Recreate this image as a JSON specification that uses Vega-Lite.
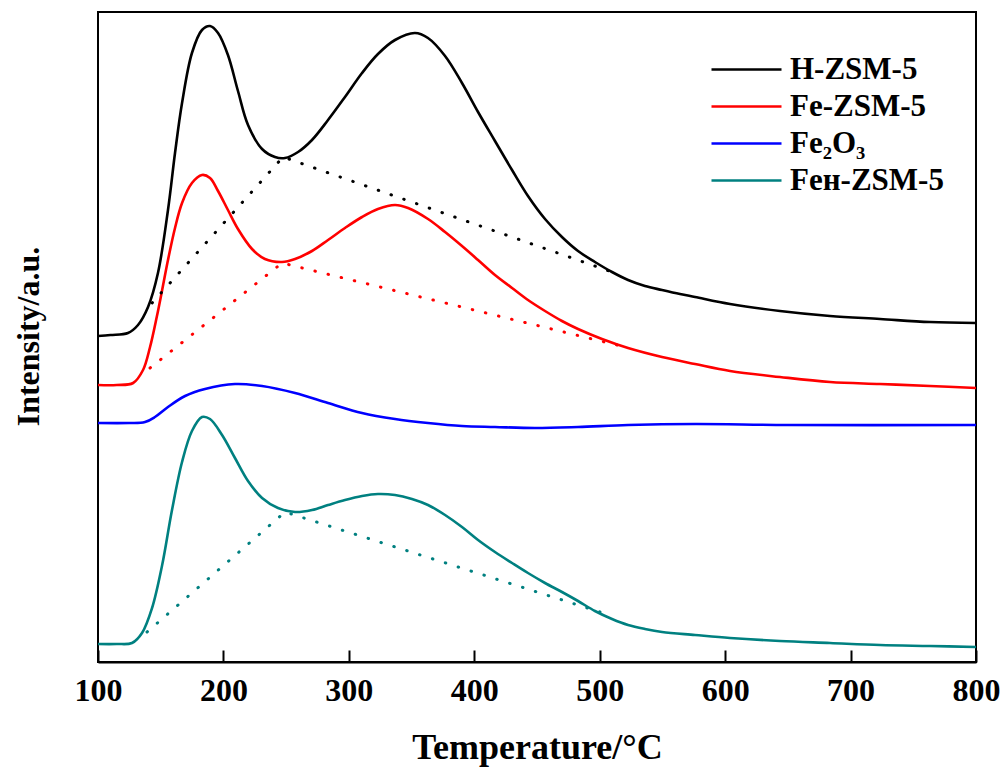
{
  "$schema": "https://vega.github.io/schema/vega-lite/v6.json",
  "width": 878,
  "height": 650,
  "autosize": {"type": "none"},
  "padding": {"left": 98, "top": 12, "right": 27, "bottom": 109},
  "background": "white",
  "config": {
    "view": {"stroke": "#000", "strokeWidth": 2},
    "font": "Liberation Serif"
  },
  "datasets": {
    "profiles": [
      {"sample": "H-ZSM-5", "temperature": 100, "intensity": 326},
      {"sample": "H-ZSM-5", "temperature": 110, "intensity": 327},
      {"sample": "H-ZSM-5", "temperature": 123.9, "intensity": 329},
      {"sample": "H-ZSM-5", "temperature": 131.9, "intensity": 337},
      {"sample": "H-ZSM-5", "temperature": 139.9, "intensity": 355},
      {"sample": "H-ZSM-5", "temperature": 147.8, "intensity": 389},
      {"sample": "H-ZSM-5", "temperature": 155.8, "intensity": 452},
      {"sample": "H-ZSM-5", "temperature": 161.4, "intensity": 509},
      {"sample": "H-ZSM-5", "temperature": 167.0, "intensity": 559},
      {"sample": "H-ZSM-5", "temperature": 174.9, "intensity": 609},
      {"sample": "H-ZSM-5", "temperature": 182.9, "intensity": 632},
      {"sample": "H-ZSM-5", "temperature": 189.3, "intensity": 636},
      {"sample": "H-ZSM-5", "temperature": 195.7, "intensity": 629},
      {"sample": "H-ZSM-5", "temperature": 203.6, "intensity": 607},
      {"sample": "H-ZSM-5", "temperature": 211.6, "intensity": 571},
      {"sample": "H-ZSM-5", "temperature": 219.6, "intensity": 537},
      {"sample": "H-ZSM-5", "temperature": 230.8, "intensity": 513},
      {"sample": "H-ZSM-5", "temperature": 241.1, "intensity": 505},
      {"sample": "H-ZSM-5", "temperature": 249.1, "intensity": 504},
      {"sample": "H-ZSM-5", "temperature": 259.5, "intensity": 510},
      {"sample": "H-ZSM-5", "temperature": 270.6, "intensity": 522},
      {"sample": "H-ZSM-5", "temperature": 283.4, "intensity": 542},
      {"sample": "H-ZSM-5", "temperature": 296.9, "intensity": 565},
      {"sample": "H-ZSM-5", "temperature": 310.5, "intensity": 589},
      {"sample": "H-ZSM-5", "temperature": 323.2, "intensity": 608},
      {"sample": "H-ZSM-5", "temperature": 336.8, "intensity": 622},
      {"sample": "H-ZSM-5", "temperature": 352.7, "intensity": 629},
      {"sample": "H-ZSM-5", "temperature": 363.1, "intensity": 624},
      {"sample": "H-ZSM-5", "temperature": 376.7, "intensity": 606},
      {"sample": "H-ZSM-5", "temperature": 390.2, "intensity": 579},
      {"sample": "H-ZSM-5", "temperature": 403.0, "intensity": 550},
      {"sample": "H-ZSM-5", "temperature": 416.5, "intensity": 521},
      {"sample": "H-ZSM-5", "temperature": 430.1, "intensity": 492},
      {"sample": "H-ZSM-5", "temperature": 442.8, "intensity": 466},
      {"sample": "H-ZSM-5", "temperature": 456.4, "intensity": 443},
      {"sample": "H-ZSM-5", "temperature": 469.9, "intensity": 425},
      {"sample": "H-ZSM-5", "temperature": 482.7, "intensity": 411},
      {"sample": "H-ZSM-5", "temperature": 496.2, "intensity": 400},
      {"sample": "H-ZSM-5", "temperature": 509.8, "intensity": 390},
      {"sample": "H-ZSM-5", "temperature": 522.6, "intensity": 382},
      {"sample": "H-ZSM-5", "temperature": 536.1, "intensity": 376},
      {"sample": "H-ZSM-5", "temperature": 549.7, "intensity": 372},
      {"sample": "H-ZSM-5", "temperature": 564.0, "intensity": 368},
      {"sample": "H-ZSM-5", "temperature": 576.0, "intensity": 365},
      {"sample": "H-ZSM-5", "temperature": 603.9, "intensity": 358},
      {"sample": "H-ZSM-5", "temperature": 643.7, "intensity": 351},
      {"sample": "H-ZSM-5", "temperature": 683.6, "intensity": 346},
      {"sample": "H-ZSM-5", "temperature": 723.5, "intensity": 343},
      {"sample": "H-ZSM-5", "temperature": 763.3, "intensity": 340},
      {"sample": "H-ZSM-5", "temperature": 800, "intensity": 339},

      {"sample": "Fe-ZSM-5", "temperature": 100, "intensity": 277},
      {"sample": "Fe-ZSM-5", "temperature": 115, "intensity": 277},
      {"sample": "Fe-ZSM-5", "temperature": 128, "intensity": 279},
      {"sample": "Fe-ZSM-5", "temperature": 135.9, "intensity": 292},
      {"sample": "Fe-ZSM-5", "temperature": 141.5, "intensity": 315},
      {"sample": "Fe-ZSM-5", "temperature": 147.0, "intensity": 346},
      {"sample": "Fe-ZSM-5", "temperature": 151.0, "intensity": 371},
      {"sample": "Fe-ZSM-5", "temperature": 155.8, "intensity": 402},
      {"sample": "Fe-ZSM-5", "temperature": 161.4, "intensity": 434},
      {"sample": "Fe-ZSM-5", "temperature": 167.0, "intensity": 459},
      {"sample": "Fe-ZSM-5", "temperature": 174.9, "intensity": 479},
      {"sample": "Fe-ZSM-5", "temperature": 182.9, "intensity": 487},
      {"sample": "Fe-ZSM-5", "temperature": 189.3, "intensity": 484},
      {"sample": "Fe-ZSM-5", "temperature": 195.7, "intensity": 471},
      {"sample": "Fe-ZSM-5", "temperature": 203.6, "intensity": 452},
      {"sample": "Fe-ZSM-5", "temperature": 211.6, "intensity": 433},
      {"sample": "Fe-ZSM-5", "temperature": 222.8, "intensity": 413},
      {"sample": "Fe-ZSM-5", "temperature": 233.1, "intensity": 403},
      {"sample": "Fe-ZSM-5", "temperature": 246.7, "intensity": 400},
      {"sample": "Fe-ZSM-5", "temperature": 257.1, "intensity": 403},
      {"sample": "Fe-ZSM-5", "temperature": 270.6, "intensity": 411},
      {"sample": "Fe-ZSM-5", "temperature": 283.4, "intensity": 422},
      {"sample": "Fe-ZSM-5", "temperature": 296.9, "intensity": 434},
      {"sample": "Fe-ZSM-5", "temperature": 310.5, "intensity": 445},
      {"sample": "Fe-ZSM-5", "temperature": 323.2, "intensity": 453},
      {"sample": "Fe-ZSM-5", "temperature": 336.8, "intensity": 457},
      {"sample": "Fe-ZSM-5", "temperature": 347.2, "intensity": 454},
      {"sample": "Fe-ZSM-5", "temperature": 363.1, "intensity": 443},
      {"sample": "Fe-ZSM-5", "temperature": 376.7, "intensity": 430},
      {"sample": "Fe-ZSM-5", "temperature": 390.2, "intensity": 416},
      {"sample": "Fe-ZSM-5", "temperature": 403.0, "intensity": 402},
      {"sample": "Fe-ZSM-5", "temperature": 416.5, "intensity": 387},
      {"sample": "Fe-ZSM-5", "temperature": 430.1, "intensity": 374},
      {"sample": "Fe-ZSM-5", "temperature": 442.8, "intensity": 362},
      {"sample": "Fe-ZSM-5", "temperature": 456.4, "intensity": 351},
      {"sample": "Fe-ZSM-5", "temperature": 469.9, "intensity": 341},
      {"sample": "Fe-ZSM-5", "temperature": 482.7, "intensity": 333},
      {"sample": "Fe-ZSM-5", "temperature": 501.8, "intensity": 323},
      {"sample": "Fe-ZSM-5", "temperature": 522.6, "intensity": 314},
      {"sample": "Fe-ZSM-5", "temperature": 549.7, "intensity": 305},
      {"sample": "Fe-ZSM-5", "temperature": 576.0, "intensity": 298},
      {"sample": "Fe-ZSM-5", "temperature": 603.9, "intensity": 291},
      {"sample": "Fe-ZSM-5", "temperature": 643.7, "intensity": 285},
      {"sample": "Fe-ZSM-5", "temperature": 683.6, "intensity": 280},
      {"sample": "Fe-ZSM-5", "temperature": 723.5, "intensity": 278},
      {"sample": "Fe-ZSM-5", "temperature": 763.3, "intensity": 276},
      {"sample": "Fe-ZSM-5", "temperature": 800, "intensity": 274},

      {"sample": "Fe₂O₃", "temperature": 100, "intensity": 239},
      {"sample": "Fe₂O₃", "temperature": 125, "intensity": 239},
      {"sample": "Fe₂O₃", "temperature": 137.5, "intensity": 240},
      {"sample": "Fe₂O₃", "temperature": 145.4, "intensity": 245},
      {"sample": "Fe₂O₃", "temperature": 155.8, "intensity": 255},
      {"sample": "Fe₂O₃", "temperature": 169.4, "intensity": 266},
      {"sample": "Fe₂O₃", "temperature": 185.3, "intensity": 273},
      {"sample": "Fe₂O₃", "temperature": 209.2, "intensity": 278},
      {"sample": "Fe₂O₃", "temperature": 230.8, "intensity": 276},
      {"sample": "Fe₂O₃", "temperature": 257.1, "intensity": 269},
      {"sample": "Fe₂O₃", "temperature": 283.4, "intensity": 259},
      {"sample": "Fe₂O₃", "temperature": 310.5, "intensity": 249},
      {"sample": "Fe₂O₃", "temperature": 336.8, "intensity": 243},
      {"sample": "Fe₂O₃", "temperature": 363.1, "intensity": 239},
      {"sample": "Fe₂O₃", "temperature": 390.2, "intensity": 236},
      {"sample": "Fe₂O₃", "temperature": 416.5, "intensity": 235},
      {"sample": "Fe₂O₃", "temperature": 448.4, "intensity": 234},
      {"sample": "Fe₂O₃", "temperature": 482.7, "intensity": 235},
      {"sample": "Fe₂O₃", "temperature": 522.6, "intensity": 237},
      {"sample": "Fe₂O₃", "temperature": 576.0, "intensity": 238},
      {"sample": "Fe₂O₃", "temperature": 650.0, "intensity": 237},
      {"sample": "Fe₂O₃", "temperature": 800, "intensity": 237},

      {"sample": "Feʜ-ZSM-5", "temperature": 100, "intensity": 18},
      {"sample": "Feʜ-ZSM-5", "temperature": 115, "intensity": 18},
      {"sample": "Feʜ-ZSM-5", "temperature": 127.1, "intensity": 19},
      {"sample": "Feʜ-ZSM-5", "temperature": 135.1, "intensity": 29},
      {"sample": "Feʜ-ZSM-5", "temperature": 143.1, "intensity": 54},
      {"sample": "Feʜ-ZSM-5", "temperature": 151.0, "intensity": 96},
      {"sample": "Feʜ-ZSM-5", "temperature": 159.0, "intensity": 152},
      {"sample": "Feʜ-ZSM-5", "temperature": 167.0, "intensity": 200},
      {"sample": "Feʜ-ZSM-5", "temperature": 174.9, "intensity": 231},
      {"sample": "Feʜ-ZSM-5", "temperature": 182.9, "intensity": 245},
      {"sample": "Feʜ-ZSM-5", "temperature": 189.3, "intensity": 243},
      {"sample": "Feʜ-ZSM-5", "temperature": 198.9, "intensity": 227},
      {"sample": "Feʜ-ZSM-5", "temperature": 209.2, "intensity": 204},
      {"sample": "Feʜ-ZSM-5", "temperature": 219.6, "intensity": 181},
      {"sample": "Feʜ-ZSM-5", "temperature": 230.8, "intensity": 164},
      {"sample": "Feʜ-ZSM-5", "temperature": 243.5, "intensity": 154},
      {"sample": "Feʜ-ZSM-5", "temperature": 257.1, "intensity": 150},
      {"sample": "Feʜ-ZSM-5", "temperature": 270.6, "intensity": 152},
      {"sample": "Feʜ-ZSM-5", "temperature": 283.4, "intensity": 157},
      {"sample": "Feʜ-ZSM-5", "temperature": 296.9, "intensity": 162},
      {"sample": "Feʜ-ZSM-5", "temperature": 310.5, "intensity": 166},
      {"sample": "Feʜ-ZSM-5", "temperature": 323.2, "intensity": 168},
      {"sample": "Feʜ-ZSM-5", "temperature": 336.8, "intensity": 167},
      {"sample": "Feʜ-ZSM-5", "temperature": 350.3, "intensity": 163},
      {"sample": "Feʜ-ZSM-5", "temperature": 363.1, "intensity": 157},
      {"sample": "Feʜ-ZSM-5", "temperature": 376.7, "intensity": 147},
      {"sample": "Feʜ-ZSM-5", "temperature": 390.2, "intensity": 135},
      {"sample": "Feʜ-ZSM-5", "temperature": 403.0, "intensity": 122},
      {"sample": "Feʜ-ZSM-5", "temperature": 416.5, "intensity": 110},
      {"sample": "Feʜ-ZSM-5", "temperature": 430.1, "intensity": 99},
      {"sample": "Feʜ-ZSM-5", "temperature": 442.8, "intensity": 89},
      {"sample": "Feʜ-ZSM-5", "temperature": 456.4, "intensity": 79},
      {"sample": "Feʜ-ZSM-5", "temperature": 469.9, "intensity": 70},
      {"sample": "Feʜ-ZSM-5", "temperature": 482.7, "intensity": 61},
      {"sample": "Feʜ-ZSM-5", "temperature": 496.2, "intensity": 51},
      {"sample": "Feʜ-ZSM-5", "temperature": 509.8, "intensity": 43},
      {"sample": "Feʜ-ZSM-5", "temperature": 522.6, "intensity": 37},
      {"sample": "Feʜ-ZSM-5", "temperature": 536.1, "intensity": 33},
      {"sample": "Feʜ-ZSM-5", "temperature": 549.7, "intensity": 30},
      {"sample": "Feʜ-ZSM-5", "temperature": 576.0, "intensity": 27},
      {"sample": "Feʜ-ZSM-5", "temperature": 603.9, "intensity": 24},
      {"sample": "Feʜ-ZSM-5", "temperature": 643.7, "intensity": 21},
      {"sample": "Feʜ-ZSM-5", "temperature": 683.6, "intensity": 19},
      {"sample": "Feʜ-ZSM-5", "temperature": 723.5, "intensity": 17},
      {"sample": "Feʜ-ZSM-5", "temperature": 763.3, "intensity": 16},
      {"sample": "Feʜ-ZSM-5", "temperature": 800, "intensity": 15}
    ],
    "baselines": [
      {"sample": "H-ZSM-5", "temperature": 143.1, "intensity": 359},
      {"sample": "H-ZSM-5", "temperature": 247.5, "intensity": 505},
      {"sample": "H-ZSM-5", "temperature": 509.8, "intensity": 390},
      {"sample": "Fe-ZSM-5", "temperature": 141.5, "intensity": 294},
      {"sample": "Fe-ZSM-5", "temperature": 246.7, "intensity": 399},
      {"sample": "Fe-ZSM-5", "temperature": 520.2, "intensity": 315},
      {"sample": "Feʜ-ZSM-5", "temperature": 139.1, "intensity": 30},
      {"sample": "Feʜ-ZSM-5", "temperature": 249.1, "intensity": 150},
      {"sample": "Feʜ-ZSM-5", "temperature": 500.2, "intensity": 50}
    ]
  },
  "encoding": {
    "x": {
      "field": "temperature",
      "type": "quantitative",
      "scale": {"domain": [100, 800], "nice": false, "zero": false},
      "axis": {
        "title": "Temperature/°C",
        "values": [100, 200, 300, 400, 500, 600, 700, 800],
        "grid": false,
        "domainColor": "#000",
        "domainWidth": 2,
        "tickColor": "#000",
        "tickWidth": 2,
        "tickSize": -12,
        "labelFlush": false,
        "labelFont": "Liberation Serif",
        "labelFontWeight": "bold",
        "labelFontSize": 32,
        "labelColor": "#000",
        "labelPadding": 25,
        "titleFont": "Liberation Serif",
        "titleFontWeight": "bold",
        "titleFontSize": 36,
        "titleColor": "#000",
        "titleBaseline": "alphabetic",
        "titleY": 96
      }
    },
    "y": {
      "field": "intensity",
      "type": "quantitative",
      "scale": {"domain": [0, 650], "nice": false, "zero": false},
      "axis": {
        "title": "Intensity/a.u.",
        "domain": false,
        "ticks": false,
        "labels": false,
        "grid": false,
        "titleFont": "Liberation Serif",
        "titleFontWeight": "bold",
        "titleFontSize": 32,
        "titleColor": "#000",
        "titleBaseline": "alphabetic",
        "titleX": -60,
        "titleY": 324
      }
    }
  },
  "layer": [
    {
      "data": {"name": "profiles"},
      "mark": {"type": "line", "strokeWidth": 2.6, "interpolate": "catmull-rom"},
      "encoding": {
        "color": {
          "field": "sample",
          "type": "nominal",
          "sort": null,
          "scale": {
            "domain": ["H-ZSM-5", "Fe-ZSM-5", "Fe₂O₃", "Feʜ-ZSM-5"],
            "range": ["#000000", "#ff0000", "#0000ff", "#008080"]
          },
          "legend": {
            "title": null,
            "orient": "none",
            "legendX": 612,
            "legendY": 39,
            "padding": 0,
            "symbolType": "stroke",
            "symbolSize": 4900,
            "symbolStrokeWidth": 2.6,
            "labelFont": "Liberation Serif",
            "labelFontWeight": "bold",
            "labelFontSize": 31,
            "labelColor": "#000",
            "labelOffset": 7,
            "labelLimit": 300,
            "rowPadding": 0,
            "clipHeight": 37
          }
        }
      }
    },
    {
      "data": {"name": "baselines"},
      "mark": {"type": "line", "strokeWidth": 3, "strokeCap": "round", "strokeDash": [0.5, 13]},
      "encoding": {
        "color": {
          "field": "sample",
          "type": "nominal",
          "sort": null,
          "scale": {
            "domain": ["H-ZSM-5", "Fe-ZSM-5", "Fe₂O₃", "Feʜ-ZSM-5"],
            "range": ["#000000", "#ff0000", "#0000ff", "#008080"]
          },
          "legend": null
        }
      }
    }
  ]
}
